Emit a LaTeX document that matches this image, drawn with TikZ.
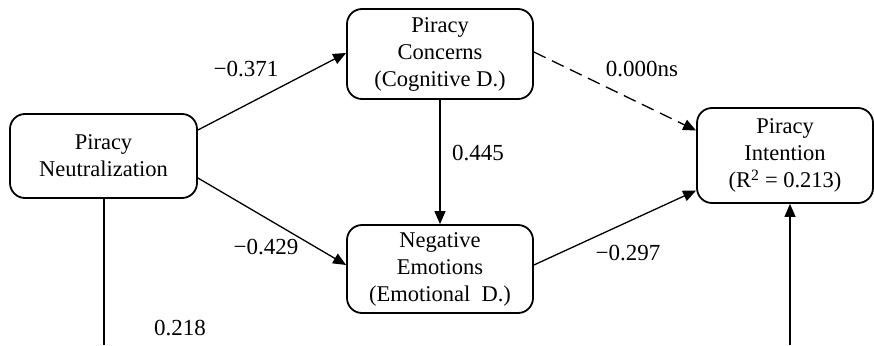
\documentclass[tikz,border=0pt]{standalone}
\usepackage{fontspec}
\setmainfont{Liberation Serif}
\usetikzlibrary{arrows.meta}
\begin{document}
\begin{tikzpicture}[x=1pt,y=-1pt,
  box/.style={draw, line width=1.8pt, rounded corners=15pt, align=center,
    inner sep=0pt, font=\fontsize{22.5}{27}\selectfont},
  path/.style={line width=1.3pt, -{Triangle[length=13pt,width=11pt]}},
  coef/.style={font=\fontsize{23}{27}\selectfont, inner sep=0pt}]
  \useasboundingbox (0,0) rectangle (874,345);

  % constructs
  \node[box, minimum width=187pt, minimum height=84pt] (neu) at (103.5,156)
    {Piracy\\Neutralization};
  \node[box, minimum width=186pt, minimum height=90pt] (con) at (440,54)
    {Piracy\\Concerns\\(Cognitive D.)};
  \node[box, minimum width=186pt, minimum height=88pt] (emo) at (440,269)
    {Negative\\Emotions\\(Emotional\ \ D.)};
  \node[box, minimum width=176pt, minimum height=95pt] (int) at (785,155.5)
    {Piracy\\Intention\\(R\textsuperscript{2} = 0.213)};

  % loose ends running off the lower edge
  \coordinate (neuout) at (104,345);
  \coordinate (intin) at (790,345);

  % structural paths
  \draw[path] ([yshift=26pt]neu.east) -- ([yshift=1pt]con.west);
  \draw[path] ([yshift=-22pt]neu.east) -- ([yshift=4pt]emo.west);
  \draw[path, dash pattern=on 13pt off 7pt] ([yshift=2pt]con.east) -- ([yshift=25pt]int.west);
  \draw[path] (con.south) -- (emo.north);
  \draw[path] ([yshift=4pt]emo.east) -- ([yshift=-35pt]int.west);
  \draw[line width=1.3pt] (neu.south -| neuout) -- (neuout);
  \draw[path] (intin) -- (intin |- int.south);

  % path coefficients
  \node[coef] (c1) at (246,69) {−0.371};
  \node[coef] (c2) at (642,69) {0.000ns};
  \node[coef] (c3) at (478,153) {0.445};
  \node[coef] (c4) at (266,247) {−0.429};
  \node[coef] (c5) at (628,253) {−0.297};
  \node[coef] (c6) at (180,328) {0.218};
\end{tikzpicture}
\end{document}
